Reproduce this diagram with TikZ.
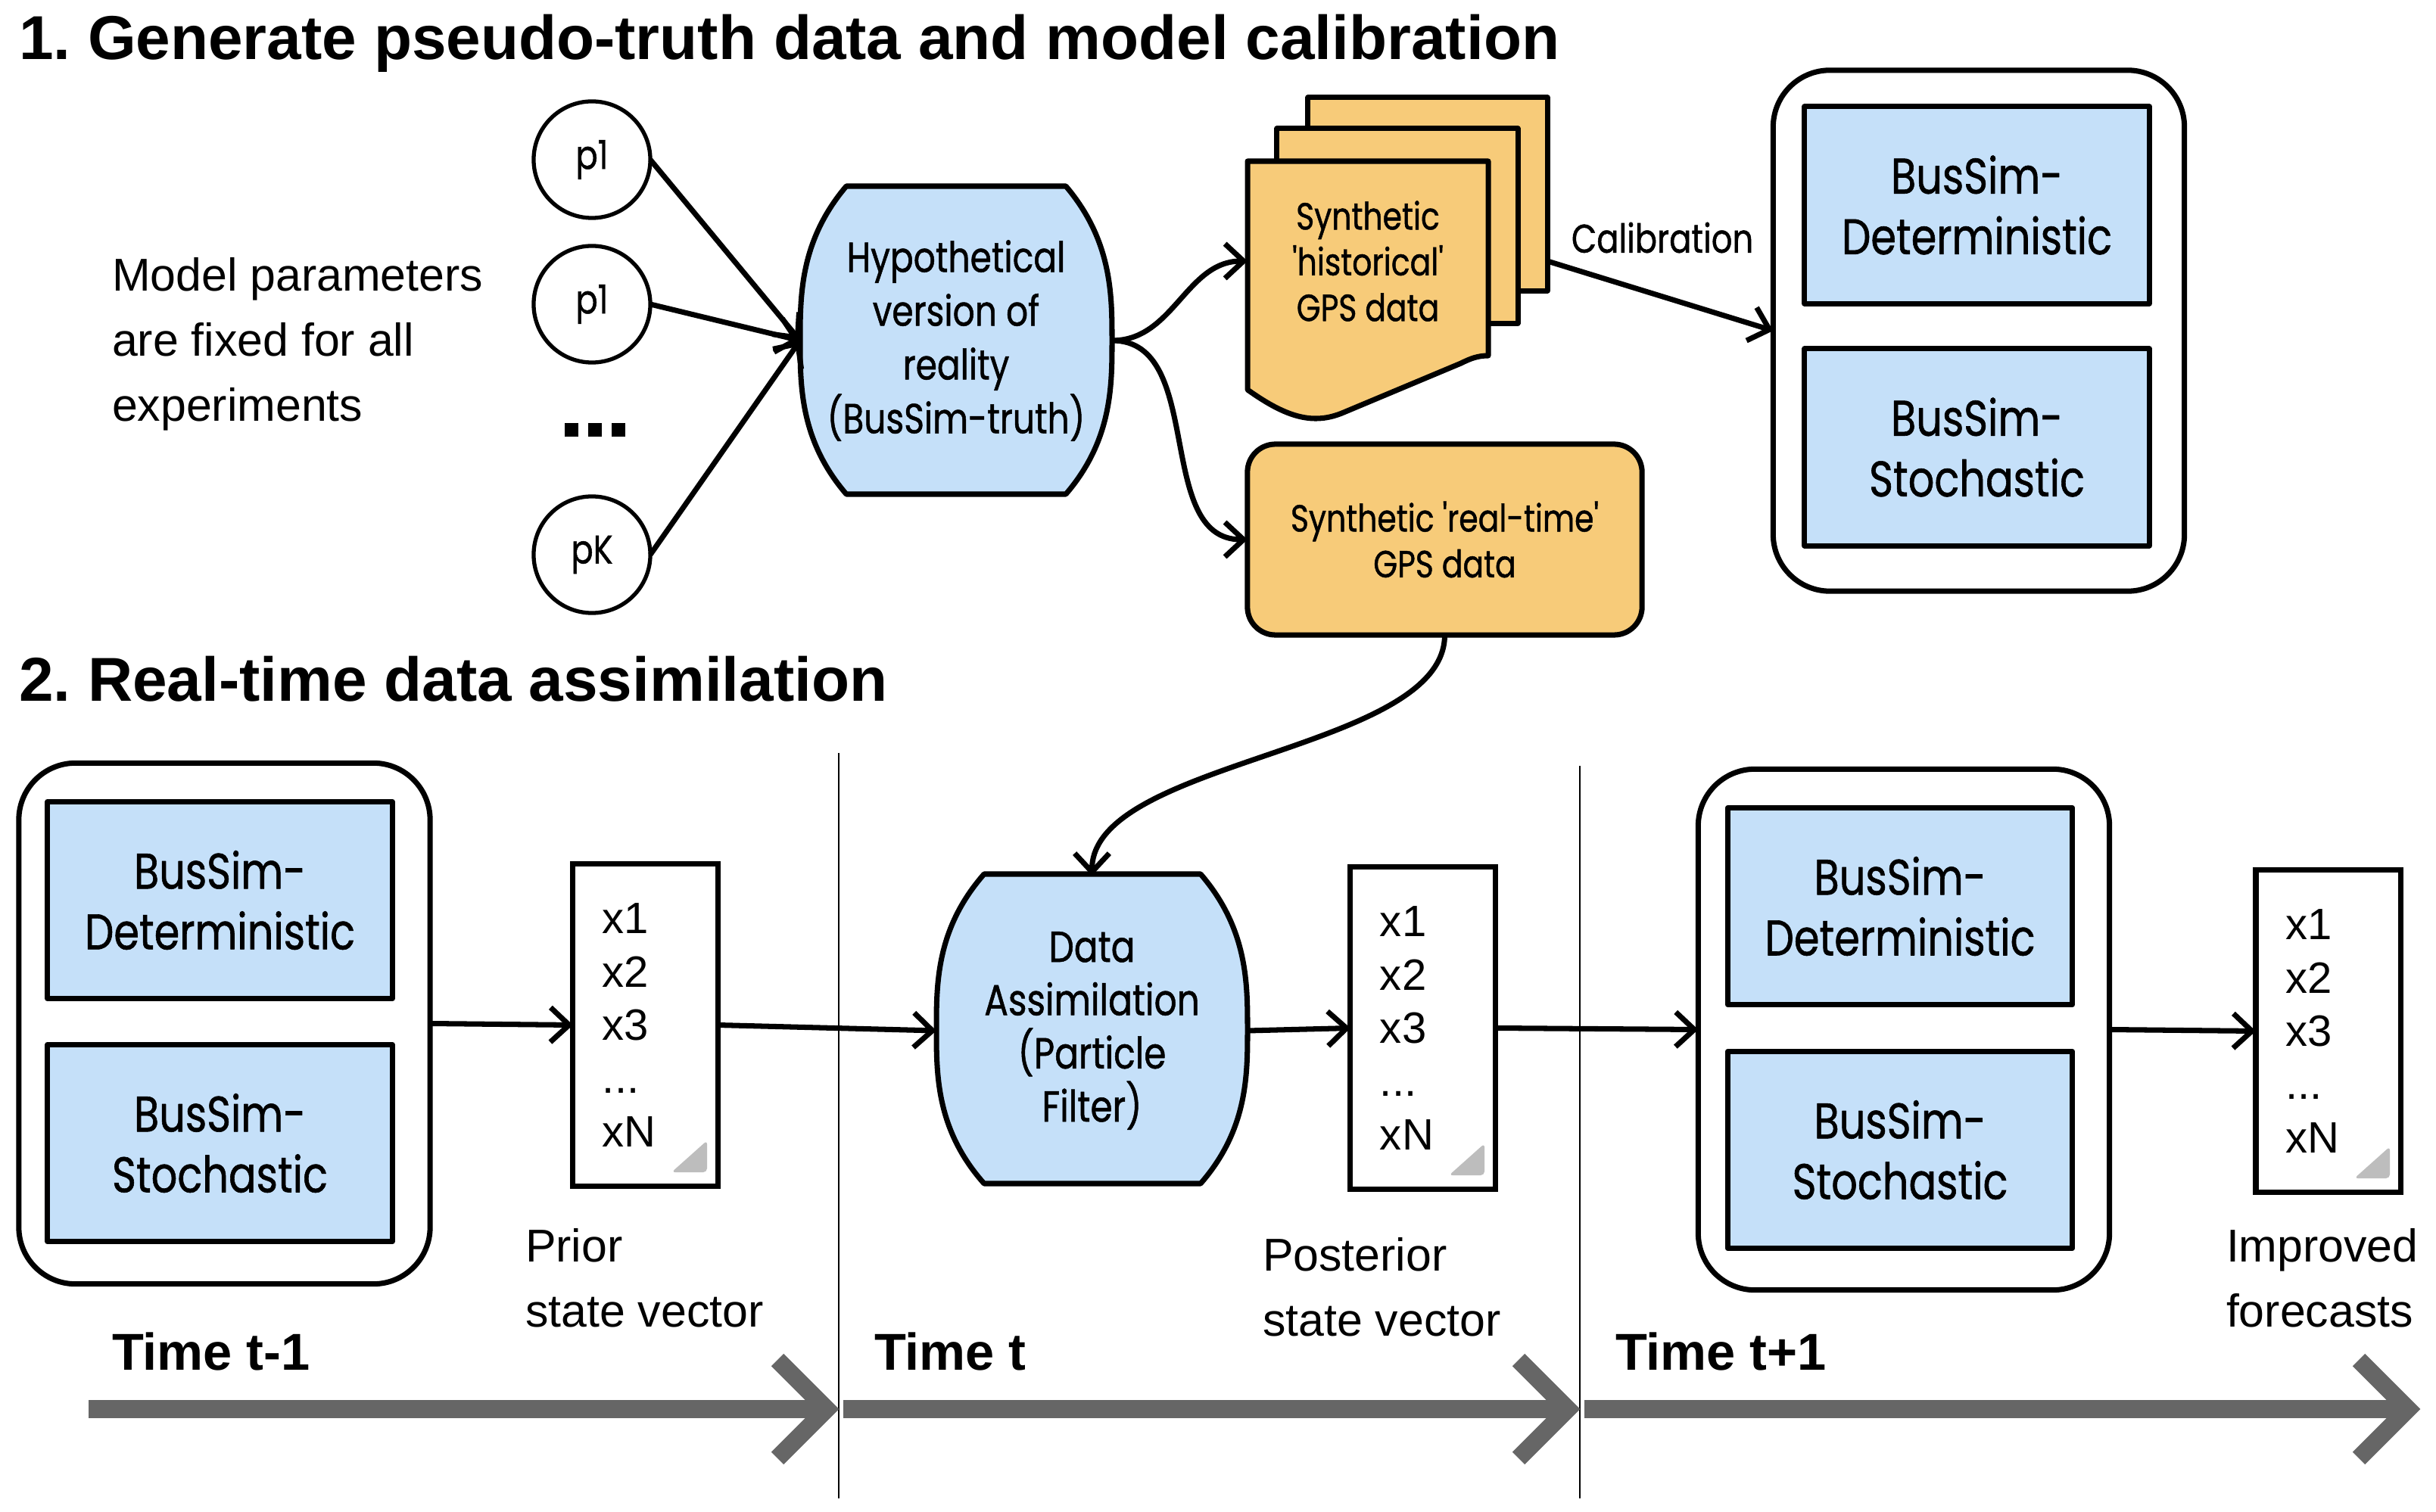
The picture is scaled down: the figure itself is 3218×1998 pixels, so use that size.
\documentclass[tikz,border=0pt]{standalone}
\usepackage{fontspec}
\setmainfont{Liberation Sans}
\newfontfamily\fut[FakeStretch=0.82,FakeBold=0.9,Ligatures=ResetAll]{Poppins}
\usetikzlibrary{arrows.meta,calc}
\definecolor{boxblue}{HTML}{C5E0F9}
\definecolor{docorange}{HTML}{F7CB79}
\definecolor{tlgrey}{HTML}{666666}
\definecolor{triggrey}{HTML}{BDBDBD}
\frenchspacing
\begin{document}
\begin{tikzpicture}[x=0.01cm,y=-0.01cm,
  every node/.style={inner sep=0pt,outer sep=0pt},
  bord/.style={line width=2pt,line join=round},
  conn/.style={line width=2pt,-{Straight Barb[length=7pt,width=13pt]}},
  futA/.style={font=\fut\fontsize{18.8}{22.8}\selectfont},
  futH/.style={font=\fut\fontsize{15.8}{20.2}\selectfont},
  futD/.style={font=\fut\fontsize{16.3}{20}\selectfont},
  futS/.style={font=\fut\fontsize{14.2}{17.2}\selectfont},
  innerbox/.style={draw,bord,fill=boxblue,minimum width=4.55cm,minimum height=2.6cm,align=center,futA},
  cont/.style={draw,bord,rounded corners=0.75cm,minimum width=5.43cm,minimum height=6.88cm},
  pcirc/.style={draw,circle,line width=1.5pt,minimum size=1.54cm,font=\fut\fontsize{15}{17}\selectfont},
  statebox/.style={draw,line width=2pt,minimum height=4.25cm,text width=1.13cm,inner xsep=0.39cm,align=left,font=\fontsize{16.5}{20}\selectfont},
  lab/.style={anchor=west,align=left,font=\fontsize{17.3}{24.5}\selectfont},
  ttl/.style={anchor=west,font=\bfseries\fontsize{23.3}{28}\selectfont},
  timelab/.style={anchor=west,font=\bfseries\fontsize{19.5}{24}\selectfont},
  tl/.style={line width=6.6pt,draw=tlgrey},
  sep/.style={line width=0.8pt},
  tri/.style={fill=triggrey,rounded corners=1.5pt}]
\useasboundingbox (0,0) rectangle (3218,1998);
\fill[white] (0,0) rectangle (3218,1998);

% titles
\node[ttl] (t1) at (25,57) {1. Generate pseudo-truth data and model calibration};
\node[ttl] (t2) at (25,897) {2. Real-time data assimilation};

% section 1
\node[lab] (fixed) at (148,455) {Model parameters\\are fixed for all\\experiments};
\node[pcirc] (p1) at (782,211) {p1};
\node[pcirc] (p2) at (782,402) {p1};
\node (dots) at (786,568) {\rule{5.2pt}{5.2pt}\hspace{3.6pt}\rule{5.2pt}{5.2pt}\hspace{3.6pt}\rule{5.2pt}{5.2pt}};
\node[pcirc] (pk) at (782,733) {pK};

\draw[bord,fill=boxblue] (1118,246) -- (1408,246) .. controls (1469,318) and (1469,390) .. (1469,450)
  .. controls (1469,510) and (1469,582) .. (1408,653) -- (1118,653)
  .. controls (1057,582) and (1057,510) .. (1057,450) .. controls (1057,390) and (1057,318) .. (1118,246) -- cycle;
\node[minimum width=4.12cm,minimum height=4.07cm,align=center,futH] (hyp) at (1263,450)
  {Hypothetical\\version of\\reality\\(BusSim-truth)};

\draw[conn] (p1.east) -- (hyp.west);
\draw[conn] (p2.east) -- (hyp.west);
\draw[conn] (pk.east) -- (hyp.west);

% document stack
\node[draw,bord,fill=docorange,minimum width=3.16cm,minimum height=2.55cm] (hist3) at (1886,256.5) {};
\node[draw,bord,fill=docorange,minimum width=3.18cm,minimum height=2.57cm] (hist2) at (1846,298.5) {};
\draw[bord,fill=docorange] (1648,213) -- (1966,213) -- (1966,470) .. controls (1952,470) and (1942,474) .. (1930,480)
  -- (1775,545) .. controls (1735,562) and (1700,552) .. (1648,515) -- cycle;
\node[minimum width=3.18cm,minimum height=2.64cm,align=center,futS] (hist) at (1807,345)
  {Synthetic\\'historical'\\GPS data};

\node[draw,bord,fill=docorange,rounded corners=0.37cm,minimum width=5.21cm,minimum height=2.52cm,align=center,futS] (rt) at (1908.5,713)
  {Synthetic 'real-time'\\GPS data};

\draw[conn] (hyp.east) to[out=0,in=180] (hist.west);
\draw[conn] (hyp.east) to[out=0,in=180] (rt.west);

\node[cont] (cont1) at (2614,437) {};
\node[innerbox] (det1) at (2611.5,271) {BusSim-\\Deterministic};
\node[innerbox] (sto1) at (2611.5,591) {BusSim-\\Stochastic};

\node[font=\fut\fontsize{15}{18}\selectfont] (calib) at (2196,314) {Calibration};
\draw[conn] (hist3.east |- hist.west) -- (cont1.west);

% section 2
\node[cont] (cont2) at (296.5,1352.5) {};
\node[innerbox] (det2) at (290.5,1189.5) {BusSim-\\Deterministic};
\node[innerbox] (sto2) at (290.5,1510.5) {BusSim-\\Stochastic};

\node[statebox] (prior) at (852.5,1354.5) {x1\\x2\\x3\\...\\xN};
\fill[tri] ($(prior.south east)+(-14,-18)$) -- ++(-47,0) -- ++(47,-42) -- cycle;
\node[lab] (priorlab) at (694,1689) {Prior\\state vector};

\draw[bord,fill=boxblue] (1300,1155) -- (1586,1155) .. controls (1648,1227) and (1648,1299) .. (1648,1360)
  .. controls (1648,1421) and (1648,1493) .. (1586,1564) -- (1300,1564)
  .. controls (1237,1493) and (1237,1421) .. (1237,1360) .. controls (1237,1299) and (1237,1227) .. (1300,1155) -- cycle;
\node[minimum width=4.11cm,minimum height=4.09cm,align=center,futD] (da) at (1442.5,1362)
  {Data\\Assimilation\\(Particle\\Filter)};

\node[statebox] (post) at (1879.5,1358.5) {x1\\x2\\x3\\...\\xN};
\fill[tri] ($(post.south east)+(-14,-18)$) -- ++(-47,0) -- ++(47,-42) -- cycle;
\node[lab] (postlab) at (1668,1701) {Posterior\\state vector};

\node[cont] (cont3) at (2515,1360.5) {};
\node[innerbox] (det3) at (2510,1197.5) {BusSim-\\Deterministic};
\node[innerbox] (sto3) at (2510,1519.5) {BusSim-\\Stochastic};

\node[statebox] (impr) at (3075.5,1362.5) {x1\\x2\\x3\\...\\xN};
\fill[tri] ($(impr.south east)+(-14,-18)$) -- ++(-47,0) -- ++(47,-42) -- cycle;
\node[lab] (imprlab) at (2941,1689) {Improved\\forecasts};

\draw[conn] (rt.south) to[out=-90,in=90,looseness=0.7] (da.north);
\draw[conn] (cont2.east) -- (prior.west);
\draw[conn] (prior.east) -- (da.west);
\draw[conn] (da.east) -- (post.west);
\draw[conn] (post.east) -- (cont3.west);
\draw[conn] (cont3.east) -- (impr.west);

% separators
\draw[sep] (1108,995) -- (1108,1980);
\draw[sep] (2087,1012) -- (2087,1980);

% time labels
\node[timelab] (tm1) at (148,1786) {Time t-1};
\node[timelab] (tm2) at (1155,1786) {Time t};
\node[timelab] (tm3) at (2134,1786) {Time t+1};

% timeline
\draw[tl] (117,1862) -- (1090,1862);
\draw[tl,line join=miter] (1027,1797) -- (1092,1862) -- (1027,1927);
\draw[tl] (1114,1862) -- (2069,1862);
\draw[tl,line join=miter] (2006,1797) -- (2071,1862) -- (2006,1927);
\draw[tl] (2093,1862) -- (3179,1862);
\draw[tl,line join=miter] (3116,1797) -- (3181,1862) -- (3116,1927);
\end{tikzpicture}
\end{document}
